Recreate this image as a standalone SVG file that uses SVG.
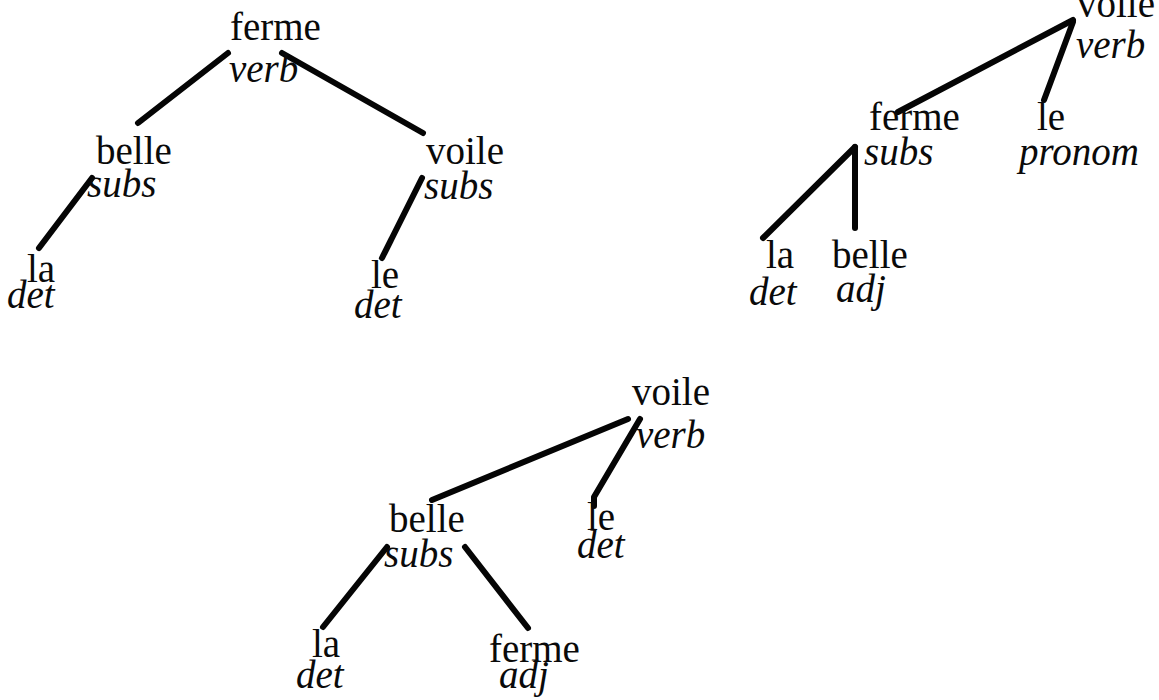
<svg xmlns="http://www.w3.org/2000/svg" width="1159" height="700" viewBox="0 0 1159 700">
<style>
.w{font-family:"Liberation Serif","Times New Roman",serif;font-size:39px;fill:#0a0a0a}
.c{font-family:"Liberation Serif","Times New Roman",serif;font-size:39px;font-style:italic;fill:#0a0a0a}
.e{stroke:#050505;stroke-width:6;stroke-linecap:round;stroke-linejoin:round;fill:none}
</style>
<rect width="1159" height="700" fill="#fff"/>
<g id="connectors">
<line class="e" x1="228" y1="53" x2="138" y2="123"/>
<line class="e" x1="282" y1="53" x2="423" y2="133"/>
<line class="e" x1="92" y1="178" x2="39" y2="248"/>
<line class="e" x1="422" y1="178" x2="382" y2="258"/>
<line class="e" x1="1073" y1="20" x2="898" y2="112"/>
<line class="e" x1="1073" y1="22" x2="1044" y2="100"/>
<line class="e" x1="855" y1="147" x2="763" y2="238"/>
<line class="e" x1="855" y1="147" x2="855" y2="228"/>
<line class="e" x1="628" y1="419" x2="432" y2="500"/>
<polyline class="e" points="640,419 594,497 594,506"/>
<line class="e" x1="387" y1="547" x2="323" y2="627"/>
<line class="e" x1="465" y1="547" x2="528" y2="628"/>
</g>
<g id="t1-ferme"><text class="w" x="230" y="40">ferme</text><text class="c" x="229" y="82">verb</text></g>
<g id="t1-belle"><text class="w" x="96" y="164">belle</text><text class="c" x="87" y="197">subs</text></g>
<g id="t1-voile"><text class="w" x="426" y="164">voile</text><text class="c" x="424" y="199">subs</text></g>
<g id="t1-la"><text class="w" x="27" y="282">la</text><text class="c" x="7" y="308">det</text></g>
<g id="t1-le"><text class="w" x="371" y="288">le</text><text class="c" x="354" y="318">det</text></g>
<g id="t2-voile"><text class="w" x="1077" y="17">voile</text><text class="c" x="1076" y="58">verb</text></g>
<g id="t2-ferme"><text class="w" x="869" y="130">ferme</text><text class="c" x="864" y="165">subs</text></g>
<g id="t2-le"><text class="w" x="1037" y="130">le</text><text class="c" x="1019" y="165">pronom</text></g>
<g id="t2-la"><text class="w" x="766" y="268">la</text><text class="c" x="749" y="305">det</text></g>
<g id="t2-belle"><text class="w" x="832" y="268">belle</text><text class="c" x="836" y="302">adj</text></g>
<g id="t3-voile"><text class="w" x="632" y="405">voile</text><text class="c" x="636" y="448">verb</text></g>
<g id="t3-belle"><text class="w" x="389" y="532">belle</text><text class="c" x="384" y="567">subs</text></g>
<g id="t3-le"><text class="w" x="587" y="530">le</text><text class="c" x="577" y="558">det</text></g>
<g id="t3-la"><text class="w" x="312" y="657">la</text><text class="c" x="296" y="688">det</text></g>
<g id="t3-ferme"><text class="w" x="489" y="662">ferme</text><text class="c" x="499" y="688">adj</text></g>
</svg>
